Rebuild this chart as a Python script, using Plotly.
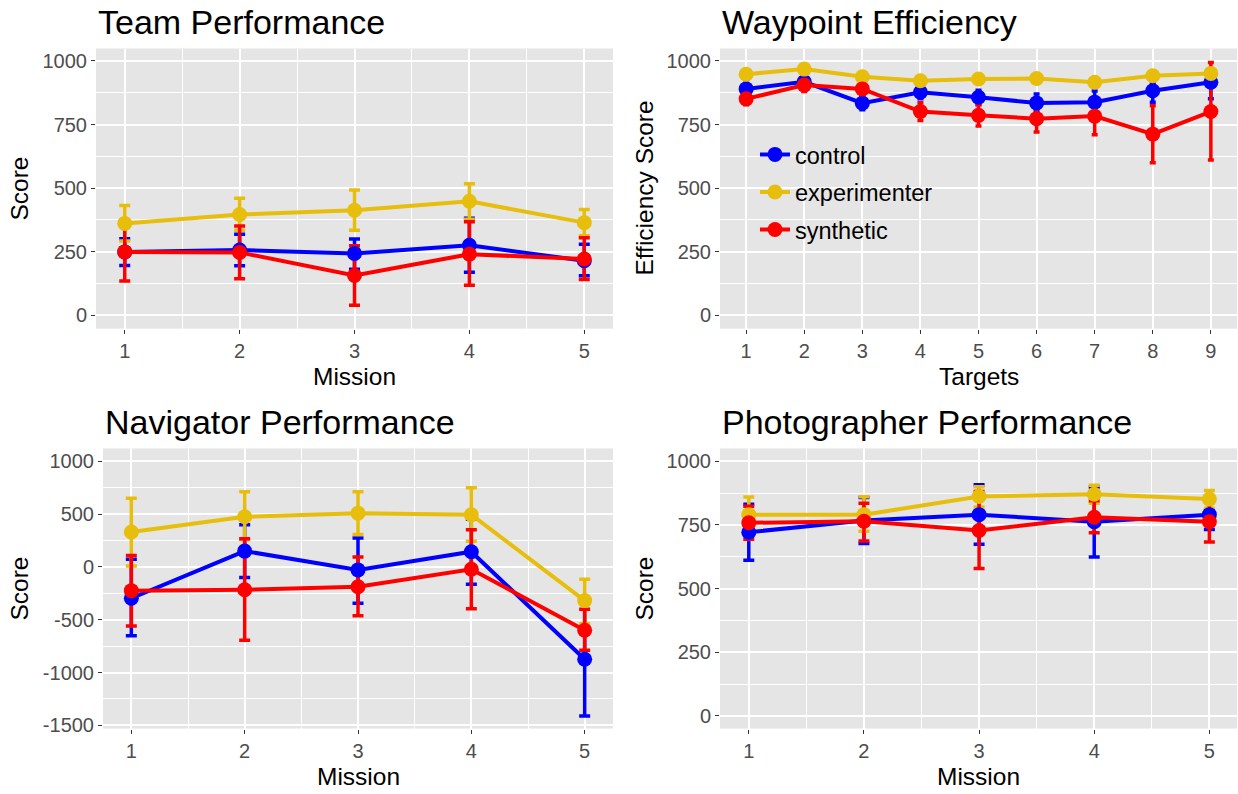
import plotly.graph_objects as go

# ---------------- data ----------------
missions = [1, 2, 3, 4, 5]
targets = [1, 2, 3, 4, 5, 6, 7, 8, 9]
groups = ["control", "experimenter", "synthetic"]
colors = {"control": "#0000FF", "experimenter": "#E6BE0B", "synthetic": "#FF0000"}

# Team Performance
team_control_mean = [249, 256, 243, 275, 214]
team_control_lo = [195, 194, 181, 169, 155]
team_control_hi = [301, 318, 300, 381, 279]
team_exp_mean = [361, 396, 413, 448, 364]
team_exp_lo = [292, 334, 334, 377, 312]
team_exp_hi = [431, 460, 492, 517, 416]
team_syn_mean = [249, 247, 156, 240, 221]
team_syn_lo = [134, 143, 39, 118, 140]
team_syn_hi = [364, 351, 273, 368, 305]

# Waypoint Efficiency
wp_control_mean = [890, 918, 834, 877, 857, 835, 838, 883, 916]
wp_control_lo = [868, 896, 808, 851, 829, 800, 794, 838, 851]
wp_control_hi = [912, 940, 860, 903, 885, 870, 882, 910, 945]
wp_exp_mean = [948, 968, 938, 922, 929, 931, 916, 942, 951]
wp_exp_lo = [934, 951, 924, 908, 916, 917, 902, 928, 937]
wp_exp_hi = [962, 985, 952, 936, 942, 945, 930, 956, 965]
wp_syn_mean = [851, 905, 890, 801, 786, 773, 783, 712, 801]
wp_syn_lo = [828, 880, 862, 766, 744, 721, 710, 600, 610]
wp_syn_hi = [874, 930, 918, 836, 828, 825, 856, 824, 994]

# Navigator Performance
nav_control_mean = [-297, 150, -28, 144, -875]
nav_control_lo = [-653, -100, -344, -163, -1412]
nav_control_hi = [72, 400, 275, 451, -338]
nav_exp_mean = [331, 475, 509, 494, -319]
nav_exp_lo = [9, 259, 306, 244, -538]
nav_exp_hi = [650, 713, 713, 750, -116]
nav_syn_mean = [-225, -216, -188, -22, -600]
nav_syn_lo = [-559, -694, -463, -397, -790]
nav_syn_hi = [109, 266, 94, 353, -400]

# Photographer Performance
ph_control_mean = [721, 767, 790, 762, 790]
ph_control_lo = [611, 677, 674, 624, 732]
ph_control_hi = [831, 857, 907, 899, 848]
ph_exp_mean = [790, 790, 861, 870, 851]
ph_exp_lo = [721, 725, 820, 835, 815]
ph_exp_hi = [859, 860, 900, 905, 885]
ph_syn_mean = [758, 764, 728, 780, 762]
ph_syn_lo = [693, 687, 579, 719, 683]
ph_syn_hi = [823, 835, 881, 845, 840]

W, H = 1238, 794
FONT = "Liberation Sans, Arial, sans-serif"

panels = [
    dict(name="Team Performance", x=missions, xaxis="x", yaxis="y", ax="xaxis", ay="yaxis",
         xdom=(96, 613), ydom=(49, 332), xr=[0.75, 5.25], yr=[-53, 1049],
         yt=[0, 250, 500, 750, 1000], ym=[-125, 125, 375, 625, 875], xm=[1.5, 2.5, 3.5, 4.5],
         xtitle="Mission", ytitle="Score", cap=5.5, legend=False,
         data={"control": (team_control_mean, team_control_lo, team_control_hi),
               "experimenter": (team_exp_mean, team_exp_lo, team_exp_hi),
               "synthetic": (team_syn_mean, team_syn_lo, team_syn_hi)}),
    dict(name="Waypoint Efficiency", x=targets, xaxis="x2", yaxis="y2", ax="xaxis2", ay="yaxis2",
         xdom=(720, 1237), ydom=(49, 332), xr=[0.55, 9.45], yr=[-53, 1049],
         yt=[0, 250, 500, 750, 1000], ym=[-125, 125, 375, 625, 875], xm=[],
         xtitle="Targets", ytitle="Efficiency Score", cap=3, legend=True,
         data={"control": (wp_control_mean, wp_control_lo, wp_control_hi),
               "experimenter": (wp_exp_mean, wp_exp_lo, wp_exp_hi),
               "synthetic": (wp_syn_mean, wp_syn_lo, wp_syn_hi)}),
    dict(name="Navigator Performance", x=missions, xaxis="x3", yaxis="y3", ax="xaxis3", ay="yaxis3",
         xdom=(103, 613), ydom=(453, 736), xr=[0.75, 5.25], yr=[-1531, 1122],
         yt=[-1500, -1000, -500, 0, 500, 1000], ym=[-1250, -750, -250, 250, 750],
         xm=[1.5, 2.5, 3.5, 4.5],
         xtitle="Mission", ytitle="Score", cap=5.5, legend=False,
         data={"control": (nav_control_mean, nav_control_lo, nav_control_hi),
               "experimenter": (nav_exp_mean, nav_exp_lo, nav_exp_hi),
               "synthetic": (nav_syn_mean, nav_syn_lo, nav_syn_hi)}),
    dict(name="Photographer Performance", x=missions, xaxis="x4", yaxis="y4", ax="xaxis4", ay="yaxis4",
         xdom=(720, 1237), ydom=(453, 736), xr=[0.75, 5.24], yr=[-50, 1050],
         yt=[0, 250, 500, 750, 1000], ym=[-125, 125, 375, 625, 875], xm=[1.5, 2.5, 3.5, 4.5],
         xtitle="Mission", ytitle="Score", cap=5.5, legend=False,
         data={"control": (ph_control_mean, ph_control_lo, ph_control_hi),
               "experimenter": (ph_exp_mean, ph_exp_lo, ph_exp_hi),
               "synthetic": (ph_syn_mean, ph_syn_lo, ph_syn_hi)}),
]

fig = go.Figure()
layout = dict(width=W, height=H, autosize=False, paper_bgcolor="white", plot_bgcolor="#E5E5E5",
              margin=dict(l=0, r=0, t=0, b=0), font=dict(family=FONT, color="black"),
              showlegend=True, annotations=[])

for p in panels:
    # error bars first (drawn underneath)
    for g in groups:
        mean, lo, hi = p["data"][g]
        plus = [h - m for h, m in zip(hi, mean)]
        minus = [m - l for m, l in zip(mean, lo)]
        fig.add_trace(go.Scatter(
            x=p["x"], y=mean, mode="markers", xaxis=p["xaxis"], yaxis=p["yaxis"],
            marker=dict(size=1, opacity=0, color=colors[g]), showlegend=False, hoverinfo="skip",
            error_y=dict(type="data", symmetric=False, array=plus, arrayminus=minus,
                         color=colors[g], thickness=3.5, width=p["cap"])))
    for g in groups:
        mean, lo, hi = p["data"][g]
        fig.add_trace(go.Scatter(
            x=p["x"], y=mean, mode="lines+markers", xaxis=p["xaxis"], yaxis=p["yaxis"], name=g,
            legendgroup=g, showlegend=p["legend"],
            line=dict(color=colors[g], width=4), marker=dict(color=colors[g], size=15)))

    x0, x1 = p["xdom"]
    y0, y1 = p["ydom"]
    layout[p["ax"]] = dict(
        domain=[x0 / W, x1 / W], range=p["xr"], anchor=p["yaxis"],
        tickvals=p["x"], ticktext=[str(v) for v in p["x"]],
        showgrid=True, gridcolor="white", gridwidth=1.6, zeroline=False,
        ticks="outside", ticklen=4, tickwidth=1.3, tickcolor="#333333",
        tickfont=dict(size=20, color="#4D4D4D", family=FONT), showline=False,
        minor=dict(tickvals=p["xm"], showgrid=True, gridcolor="white", gridwidth=0.8, ticklen=0))
    layout[p["ay"]] = dict(
        domain=[1 - y1 / H, 1 - y0 / H], range=p["yr"], anchor=p["xaxis"],
        tickvals=p["yt"], ticktext=[str(v) for v in p["yt"]],
        showgrid=True, gridcolor="white", gridwidth=1.6, zeroline=False,
        ticks="outside", ticklen=4, tickwidth=1.3, tickcolor="#333333",
        tickfont=dict(size=20, color="#4D4D4D", family=FONT), showline=False,
        minor=dict(tickvals=p["ym"], showgrid=True, gridcolor="white", gridwidth=0.8, ticklen=0))

    # panel title
    layout["annotations"].append(dict(
        text=p["name"], x=x0 / W, y=1 - (y0 - 27) / H, xref="paper", yref="paper",
        xanchor="left", yanchor="middle", showarrow=False, font=dict(size=34, color="black")))
    # x-axis title
    layout["annotations"].append(dict(
        text=p["xtitle"], x=(x0 + x1) / 2 / W, y=1 - (y1 + 48) / H, xref="paper", yref="paper",
        xanchor="center", yanchor="middle", showarrow=False, font=dict(size=24.5, color="black")))
    # y-axis title
    ytx = 20 if x0 < 400 else 645
    layout["annotations"].append(dict(
        text=p["ytitle"], x=ytx / W, y=1 - (y0 + y1) / 2 / H, xref="paper", yref="paper",
        xanchor="center", yanchor="middle", textangle=-90, showarrow=False,
        font=dict(size=24.5, color="black")))

layout["legend"] = dict(x=755 / W, y=1 - 134 / H, xanchor="left", yanchor="top",
                        bgcolor="rgba(0,0,0,0)", font=dict(size=23.5, color="black", family=FONT),
                        traceorder="grouped", tracegroupgap=4)

fig.update_layout(**layout)
fig.write_html("out.html", config={"displayModeBar": False},
               post_script="document.body.style.margin='0px';document.body.style.overflow='hidden';")
